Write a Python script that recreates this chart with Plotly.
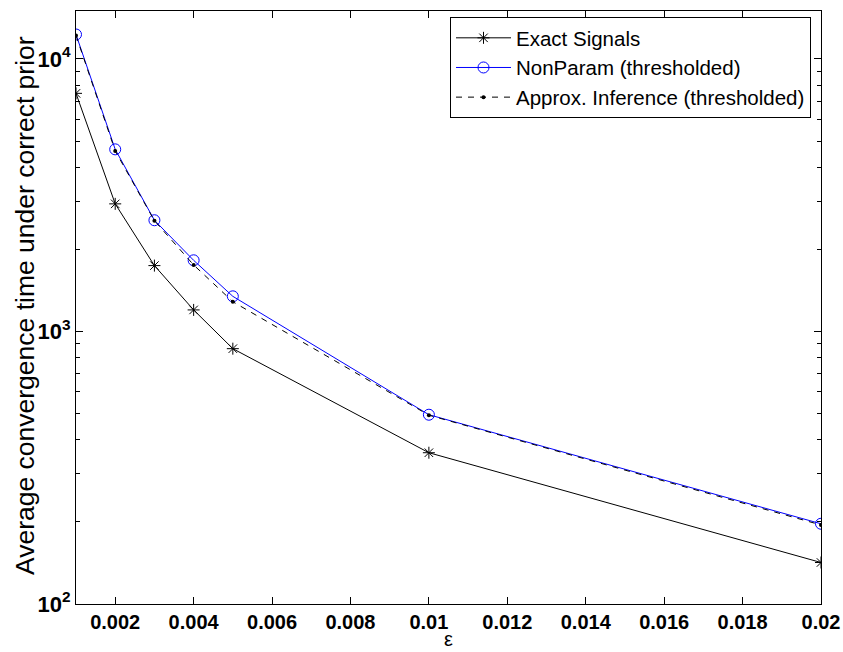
import plotly.graph_objects as go
import numpy as np

eps = [0.001, 0.002, 0.003, 0.004, 0.005, 0.01, 0.02]
exact_signals = [7480, 2940, 1745, 1200, 865, 359, 142]
nonparam = [12300, 4660, 2560, 1825, 1346, 495, 197]
approx_inf = [12200, 4600, 2550, 1755, 1286, 493, 195]

x_ticks = [0.002, 0.004, 0.006, 0.008, 0.01, 0.012, 0.014, 0.016, 0.018, 0.02]
x_ticktext = ["0.002", "0.004", "0.006", "0.008", "0.01", "0.012", "0.014", "0.016", "0.018", "0.02"]
y_ticks = [100, 1000, 10000]
y_ticktext = ["10<sup>2</sup>", "10<sup>3</sup>", "10<sup>4</sup>"]
y_minor = [m * d for d in [100, 1000, 10000] for m in range(2, 10) if m * d <= 15000]

FONT = "Liberation Sans, Arial, Helvetica, sans-serif"

fig = go.Figure()
fig.add_trace(go.Scatter(
    x=eps, y=exact_signals, mode="lines+markers", name="Exact Signals",
    line=dict(color="black", width=1),
    marker=dict(symbol="asterisk-open", size=10, color="black", line=dict(color="black", width=1)),
))
fig.add_trace(go.Scatter(
    x=eps, y=nonparam, mode="lines+markers", name="NonParam (thresholded)",
    line=dict(color="#0000ff", width=1),
    marker=dict(symbol="circle-open", size=11, color="#0000ff", line=dict(color="#0000ff", width=1)),
))
fig.add_trace(go.Scatter(
    x=eps, y=approx_inf, mode="lines+markers", name="Approx. Inference (thresholded)",
    line=dict(color="black", width=1, dash="6px,6px"),
    marker=dict(symbol="circle", size=4, color="black"),
))

fig.update_layout(
    width=843, height=652,
    margin=dict(l=76, r=22, t=11, b=48),
    paper_bgcolor="white", plot_bgcolor="white",
    font=dict(family=FONT, color="black"),
    showlegend=True,
    legend=dict(
        x=(450 - 76) / 745, y=1 - (17 - 11) / 593, xanchor="left", yanchor="top",
        bgcolor="white", bordercolor="black", borderwidth=1,
        font=dict(size=20.5, family=FONT, color="black"),
        tracegroupgap=0, itemwidth=55,
    ),
)
fig.update_xaxes(
    range=[0.001, 0.02], tickvals=x_ticks, ticktext=x_ticktext,
    ticks="inside", ticklen=7, tickcolor="black", tickwidth=1,
    showline=True, linecolor="black", linewidth=1, mirror="ticks",
    showgrid=False, zeroline=False,
    tickfont=dict(size=20, family=FONT, color="black", weight="bold"),
    automargin=False,
)
fig.update_yaxes(
    type="log", range=[2, np.log10(15000)],
    tickvals=y_ticks, ticktext=y_ticktext,
    ticks="inside", ticklen=7, tickcolor="black", tickwidth=1,
    minor=dict(tickvals=y_minor, ticks="inside", ticklen=4, tickcolor="black", tickwidth=1),
    showline=True, linecolor="black", linewidth=1, mirror="ticks",
    showgrid=False, zeroline=False,
    tickfont=dict(size=22, family=FONT, color="black", weight="bold"),
    automargin=False,
)
fig.add_annotation(
    text="Average convergence time under correct prior",
    xref="paper", yref="paper", x=(25 - 76) / 745, y=1 - (306 - 11) / 593,
    xanchor="center", yanchor="middle", textangle=-90, showarrow=False,
    font=dict(size=26.5, family=FONT, color="black"),
)
fig.add_annotation(
    text="ε",
    xref="paper", yref="paper", x=0.5, y=-(639 - 604) / 593,
    xanchor="center", yanchor="middle", showarrow=False,
    font=dict(size=20, family=FONT, color="black"),
)
fig.write_html("out.html")
